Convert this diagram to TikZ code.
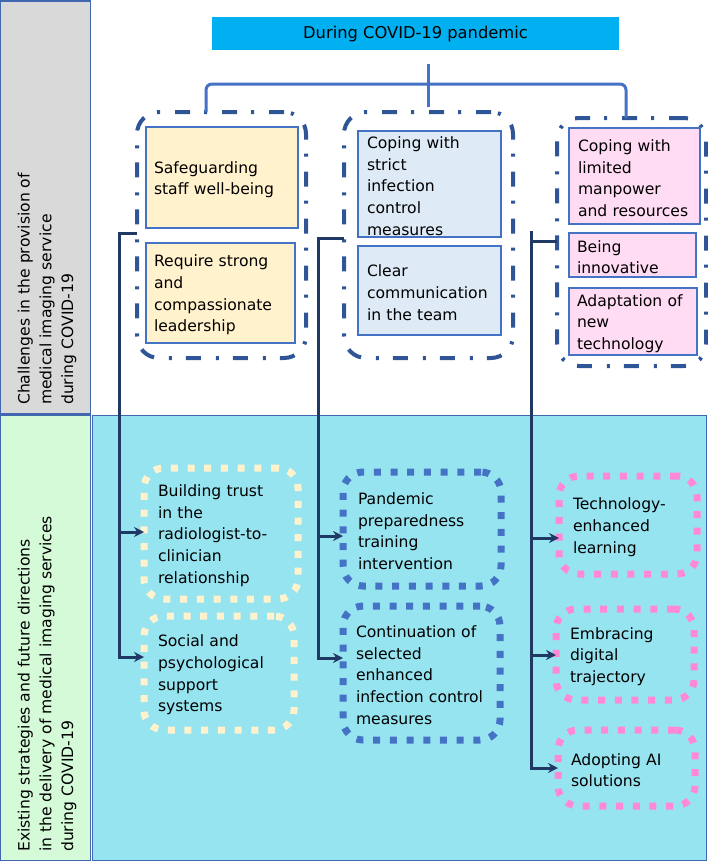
\documentclass[tikz,border=0pt]{standalone}
\usepackage{fontspec}
\setmainfont{DejaVu Sans}
\usetikzlibrary{arrows.meta}
\definecolor{titlecol}{HTML}{00B0F0}
\definecolor{panelcyan}{RGB}{151,228,241}
\definecolor{panelgray}{HTML}{D9D9D9}
\definecolor{panelgreen}{RGB}{213,250,216}
\definecolor{framecol}{HTML}{4067B0}
\definecolor{boxline}{HTML}{4472C4}
\definecolor{fillyellow}{HTML}{FFF2CC}
\definecolor{fillblue}{RGB}{222,235,247}
\definecolor{fillpink}{RGB}{255,220,243}
\definecolor{dotyellow}{HTML}{FFF2CC}
\definecolor{dotblue}{HTML}{4472C4}
\definecolor{dotpink}{RGB}{255,137,212}
\definecolor{grpcol}{HTML}{2F5597}
\definecolor{navy}{HTML}{203864}
\definecolor{brackcol}{HTML}{4472C4}
\tikzset{
  txt/.style={font=\fontsize{15.6}{21.7}\selectfont, text=black},
  panel/.style={draw=framecol, line width=1.3pt, inner sep=0pt, outer sep=0pt},
  lowered/.style={execute at begin node={\rule{0pt}{16pt}}},
  cbox/.style={txt, lowered, draw=boxline, line width=1.1pt, align=left, inner ysep=0pt, outer sep=0pt},
  grp/.style={draw=grpcol, line width=4pt, dash pattern=on 15pt off 15pt on 3pt off 14pt, rounded corners=22pt, inner sep=0pt, outer sep=0pt},
  dotbox/.style={txt, lowered, line width=7pt, dash pattern=on 7pt off 9.7pt, rounded corners=20pt, align=left, inner ysep=0pt, outer sep=0pt},
  trunk/.style={draw=navy, line width=3pt},
  tip/.style={-{Stealth[length=10pt,width=10pt]}},
  bracket/.style={draw=brackcol, line width=3pt, rounded corners=6pt},
}
\begin{document}
\begin{tikzpicture}[x=1pt,y=-1pt]
\useasboundingbox (0,0) rectangle (708,863);
% panels
\node[panel, fill=panelgray, minimum width=90pt, minimum height=413pt] (pgray) at (45.5,207.5) {};
\node[panel, fill=panelgreen, minimum width=90pt, minimum height=445pt] (pgreen) at (45.5,638) {};
\node[panel, fill=panelcyan, minimum width=614pt, minimum height=445pt] (pcyan) at (399.5,638) {};
\node[txt, rotate=90, anchor=west, align=left, inner sep=0pt] (lab1) at (47,405) {Challenges in the provision of\\medical imaging service\\during COVID-19};
\node[txt, rotate=90, anchor=west, align=left, inner sep=0pt] (lab2) at (47,852) {Existing strategies and future directions\\in the delivery of medical imaging services\\during COVID-19};
% title
\node[txt, font=\fontsize{16.3}{20}\selectfont, fill=titlecol, minimum width=407pt, minimum height=33pt, inner sep=0pt] (title) at (415.5,33.5) {During COVID-19 pandemic};
% groups
\node[grp, minimum width=169pt, minimum height=246pt] (g1) at (221.5,235) {};
\node[grp, minimum width=169pt, minimum height=246pt] (g2) at (428.5,235) {};
\node[grp, minimum width=149pt, minimum height=248pt] (g3) at (631.5,242) {};
% challenge boxes
\node[cbox, fill=fillyellow, inner xsep=8pt, text width=136pt, minimum height=101pt] (a1) at (222,177.5) {Safeguarding\\staff well-being};
\node[cbox, fill=fillyellow, inner xsep=8pt, text width=133pt, minimum height=100pt] (a2) at (220.5,293) {Require strong\\and\\compassionate\\leadership};
\node[cbox, fill=fillblue, inner xsep=9pt, text width=125pt, minimum height=106pt] (b1) at (429.5,184) {Coping with\\strict\\infection\\control\\measures};
\node[cbox, fill=fillblue, inner xsep=9pt, text width=125pt, minimum height=89pt] (b2) at (429.5,290.5) {Clear\\communication\\in the team};
\node[cbox, fill=fillpink, inner xsep=9pt, text width=113pt, minimum height=96pt] (c1) at (634.5,176) {Coping with\\limited\\manpower\\and resources};
\node[cbox, fill=fillpink, inner xsep=8pt, text width=111pt, minimum height=44pt] (c2) at (632.5,255) {Being\\innovative};
\node[cbox, fill=fillpink, inner xsep=8pt, text width=112pt, minimum height=67pt] (c3) at (633,321.5) {Adaptation of\\new\\technology};
% strategy boxes
\node[dotbox, draw=dotyellow, inner xsep=14pt, text width=126pt, minimum height=131pt] (d1) at (221,533.5) {Building trust\\in the\\radiologist-to-\\clinician\\relationship};
\node[dotbox, draw=dotyellow, inner xsep=14pt, text width=122pt, minimum height=114pt] (d2) at (219,673) {Social and\\psychological\\support\\systems};
\node[dotbox, draw=dotblue, inner xsep=15pt, text width=128pt, minimum height=114pt] (e1) at (422,529) {Pandemic\\preparedness\\training\\intervention};
\node[dotbox, draw=dotblue, inner xsep=13pt, text width=131pt, minimum height=134pt] (e2) at (421.5,673) {Continuation of\\selected\\enhanced\\infection control\\measures};
\node[dotbox, draw=dotpink, inner xsep=14pt, text width=110pt, minimum height=98pt] (f1) at (628,525) {Technology-\\enhanced\\learning};
\node[dotbox, draw=dotpink, inner xsep=14pt, text width=110pt, minimum height=91pt] (f2) at (625,654.5) {Embracing\\digital\\trajectory};
\node[dotbox, draw=dotpink, inner xsep=13pt, text width=111pt, minimum height=76pt] (f3) at (626.5,768) {Adopting AI\\solutions};
% bracket
\coordinate (btop) at (428,64);
\coordinate (bbot) at (428,107);
\coordinate (bl) at (206,84);
\coordinate (br) at (626,84);
\draw[bracket] (bl |- g1.north) -- (bl) -- (br) -- (br |- g3.north);
\draw[bracket] (btop) -- (bbot);
% trunk 1
\coordinate (j1) at (119,233);
\coordinate (k1) at (119,532);
\coordinate (k2) at (119,657);
\draw[trunk, tip] (j1 -| g1.west) -- (j1) |- (d2.west |- k2);
\draw[trunk, tip] (k1) -- (k1 -| d1.west);
% trunk 2
\coordinate (j2) at (318,238);
\coordinate (k3) at (318,536);
\coordinate (k4) at (318,658);
\draw[trunk, tip] (j2 -| g2.west) -- (j2) |- (e2.west |- k4);
\draw[trunk, tip] (k3) -- (k3 -| e1.west);
% trunk 3
\coordinate (j3top) at (531,231);
\coordinate (j3) at (531,241);
\coordinate (k5) at (531,538);
\coordinate (k6) at (531,655);
\coordinate (k7) at (531,768);
\draw[trunk, tip] (j3top) |- (f3.west |- k7);
\draw[trunk] (j3) -- (j3 -| g3.west);
\draw[trunk, tip] (k5) -- (k5 -| f1.west);
\draw[trunk, tip] (k6) -- (k6 -| f2.west);
\end{tikzpicture}
\end{document}
